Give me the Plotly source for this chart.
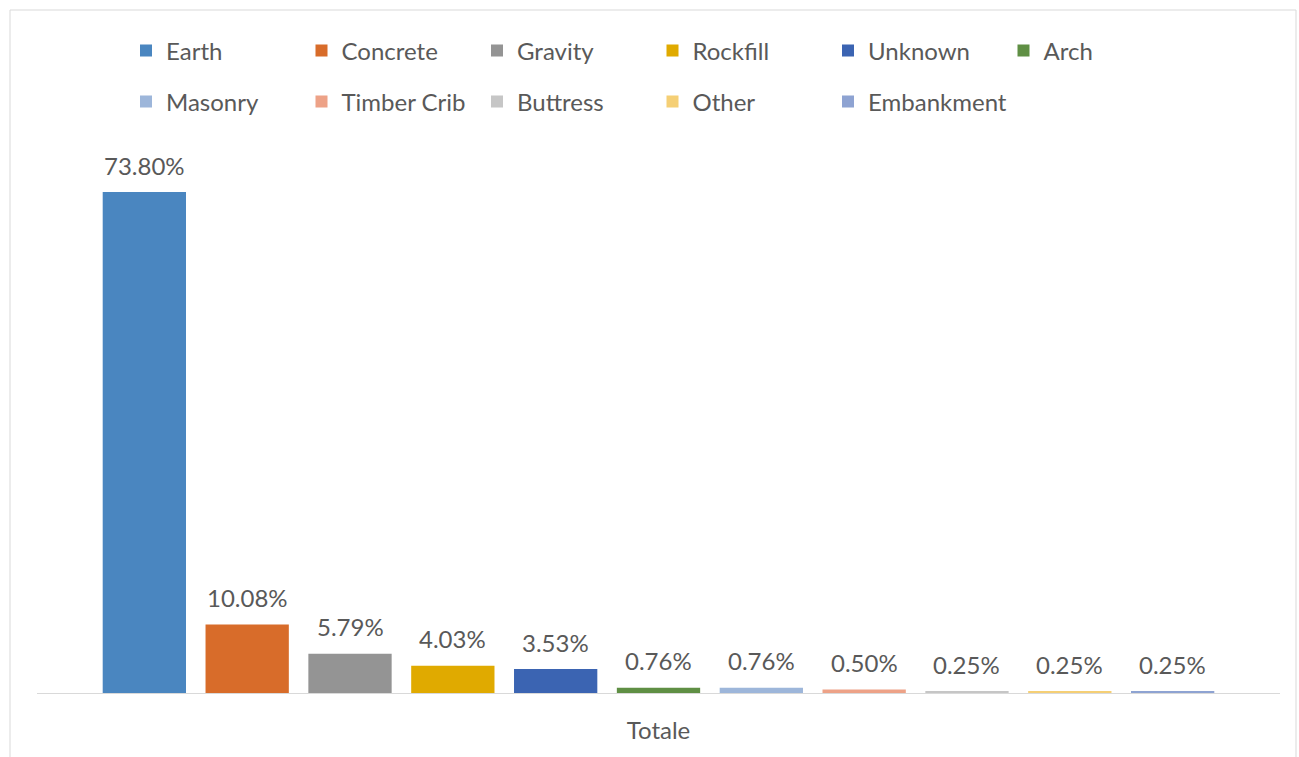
import plotly.graph_objects as go

# Dam types and their share of the total (percent)
categories = ["Totale"]
dam_types = ["Earth", "Concrete", "Gravity", "Rockfill", "Unknown", "Arch",
             "Masonry", "Timber Crib", "Buttress", "Other", "Embankment"]
shares = [73.80, 10.08, 5.79, 4.03, 3.53, 0.76, 0.76, 0.50, 0.25, 0.25, 0.25]
colors = ["#4a86c0", "#d86c2a", "#949494", "#e0aa00", "#3b64b2", "#5f8f44",
          "#9db6da", "#eda287", "#c6c6c6", "#f5cf75", "#8ea3d2"]

TEXT = "#595959"
FONT = "Lato, 'Open Sans', sans-serif"
FSIZE = 24
BARGAP = 0.09
GROUPGAP = 0.19
ENTRY_W = 130.5

n = len(dam_types)

fig = go.Figure()
for i, (name, val, col) in enumerate(zip(dam_types, shares, colors)):
    # the last legend entry gets room for its longer label
    width = ENTRY_W + 40 if i == n - 1 else None
    fig.add_trace(go.Bar(
        x=categories, y=[val], name=name,
        marker=dict(color=col, line=dict(width=0)),
        hoverinfo="name+y",
        legend="legend" if i < 6 else "legend2",
        legendwidth=width,
    ))

# Value labels floating above each bar of the group
slot = (1 - BARGAP) / n
annotations = []
for i, val in enumerate(shares):
    annotations.append(dict(
        xref="x", yref="y", x=-(1 - BARGAP) / 2 + slot * (i + 0.5), y=val,
        text=f"{val:.2f}%", showarrow=False, yanchor="middle", yshift=27,
        font=dict(color=TEXT, size=FSIZE, family=FONT),
    ))

legend_common = dict(
    orientation="h", xref="container", yref="container",
    xanchor="left", yanchor="middle",
    font=dict(color=TEXT, size=FSIZE, family=FONT),
    entrywidth=ENTRY_W, entrywidthmode="pixels",
    itemwidth=30, bgcolor="rgba(0,0,0,0)", borderwidth=0,
    traceorder="normal", itemclick=False, itemdoubleclick=False,
)

fig.update_layout(
    width=1299, height=757,
    margin=dict(l=37, r=19, t=150, b=64),
    paper_bgcolor="white", plot_bgcolor="white",
    barmode="group", bargap=BARGAP, bargroupgap=GROUPGAP,
    font=dict(family=FONT, color=TEXT),
    showlegend=True,
    legend=dict(legend_common, x=126 / 1299, y=1 - 51 / 757),
    legend2=dict(legend_common, x=126 / 1299, y=1 - 102 / 757),
    xaxis=dict(
        showgrid=False, showline=True, linecolor="#d9d9d9", linewidth=1,
        ticks="", tickfont=dict(size=FSIZE, color=TEXT, family=FONT),
        ticklabelstandoff=16, fixedrange=True,
    ),
    yaxis=dict(range=[0, 80], visible=False, fixedrange=True),
    annotations=annotations,
    shapes=[dict(
        type="rect", xref="paper", yref="paper",
        x0=(10 - 37) / 1243, x1=(1296 - 37) / 1243,
        y0=(693 - 770) / 543, y1=(693 - 10) / 543,
        line=dict(color="#d9d9d9", width=1), fillcolor="rgba(0,0,0,0)",
        layer="below",
    )],
)

fig.write_html("out.html", config={"displayModeBar": False})
